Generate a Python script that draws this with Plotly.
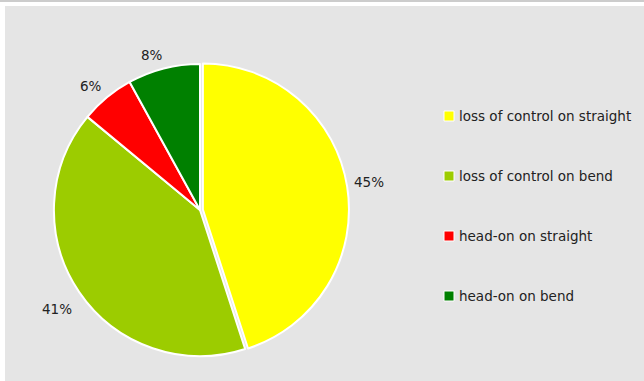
import math
import plotly.graph_objects as go

# Accident types and their share of cases
categories = ["loss of control on straight", "loss of control on bend",
              "head-on on straight", "head-on on bend"]
shares = [45, 41, 6, 8]
colors = ["#ffff00", "#9ccc00", "#ff0000", "#008000"]

W, H = 644, 381
FONT = "DejaVu Sans"
CX, CY = 200, 210      # pie centre, px
HALF = 149             # half of the pie domain, px
LABEL_R = 157          # distance of the label box corner from the centre, px
LABEL_DY = 4           # small downward nudge of the percent labels, px


def px(x):
    return x / W


def py(y):
    return 1 - y / H


fig = go.Figure()

fig.add_trace(go.Pie(
    labels=categories,
    values=shares,
    marker=dict(colors=colors, line=dict(color="white", width=2)),
    sort=False,
    direction="clockwise",
    rotation=0,
    pull=[0.02, 0, 0, 0],
    textinfo="none",
    showlegend=False,
    hoverinfo="label+percent",
    domain=dict(x=[px(CX - HALF), px(CX + HALF)], y=[py(CY + HALF), py(CY - HALF)]),
))

shapes = [
    # thin top rule
    dict(type="rect", xref="paper", yref="paper", x0=0, x1=1,
         y0=py(2), y1=1, fillcolor="#cccccc", line=dict(width=0), layer="below"),
    # grey panel
    dict(type="rect", xref="paper", yref="paper", x0=px(5), x1=1,
         y0=0, y1=py(6), fillcolor="#e5e5e5", line=dict(width=0), layer="below"),
]
annotations = []

# percent labels outside each slice: the box corner nearest the pie sits on
# the slice's mid-angle ray
total = sum(shares)
cum = 0
for v in shares:
    mid = (cum + v / 2) / total * 2 * math.pi
    cum += v
    ux, uy = math.sin(mid), -math.cos(mid)
    text = f"{round(100 * v / total)}%"
    w, h = 9 * len(text), 14
    lx = CX + LABEL_R * ux + math.copysign(w / 2, ux)
    ly = CY + LABEL_R * uy + math.copysign(h / 2, uy) + LABEL_DY
    annotations.append(dict(xref="paper", yref="paper", x=px(lx), y=py(ly),
                            xanchor="center", yanchor="middle", showarrow=False,
                            text=text, font=dict(family=FONT, size=13.5, color="#222222")))

# legend entries, one row every 60 px
for i, (name, col) in enumerate(zip(categories, colors)):
    yc = 116 + 60 * i
    shapes.append(dict(type="rect", xref="paper", yref="paper",
                       x0=px(444), x1=px(454), y0=py(yc + 5), y1=py(yc - 5),
                       fillcolor=col, line=dict(color="white", width=1)))
    annotations.append(dict(xref="paper", yref="paper", x=px(457), y=py(yc),
                            xanchor="left", yanchor="middle", showarrow=False,
                            text=name, font=dict(family=FONT, size=13.5, color="#222222")))

fig.update_layout(
    width=W, height=H,
    margin=dict(l=0, r=0, t=0, b=0),
    paper_bgcolor="white",
    plot_bgcolor="white",
    shapes=shapes,
    annotations=annotations,
    font=dict(family=FONT),
)

fig.write_html("out.html")
